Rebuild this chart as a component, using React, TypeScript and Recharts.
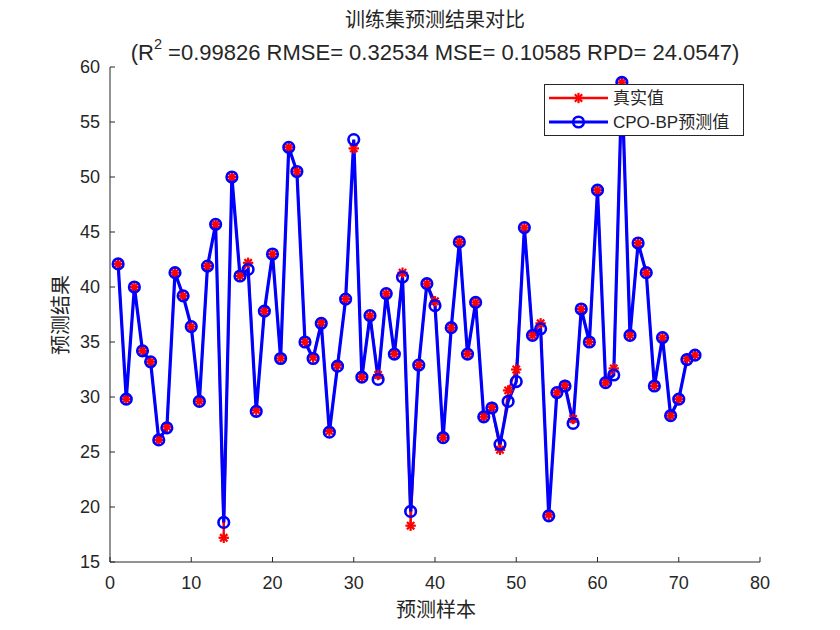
import React from 'react';
import { LineChart, Line, XAxis, YAxis } from 'recharts';

const sampleIndex = [
  1, 2, 3, 4, 5, 6, 7, 8, 9, 10, 11, 12, 13, 14, 15, 16, 17, 18, 19, 20, 21, 22, 23, 24,
  25, 26, 27, 28, 29, 30, 31, 32, 33, 34, 35, 36, 37, 38, 39, 40, 41, 42, 43, 44, 45, 46, 47, 48,
  49, 50, 51, 52, 53, 54, 55, 56, 57, 58, 59, 60, 61, 62, 63, 64, 65, 66, 67, 68, 69, 70, 71, 72,
];

const actualValues = [
  42.1, 29.8, 40.0, 34.2, 33.2, 26.1, 27.3, 41.3, 39.2, 36.4, 29.6, 41.9, 45.7, 17.2, 50.0, 41.0, 42.2, 28.8, 37.8, 43.0, 33.5, 52.7, 50.5, 35.0,
  33.6, 36.8, 26.9, 32.9, 38.9, 52.6, 31.8, 37.4, 32.0, 39.4, 33.9, 41.3, 18.3, 32.9, 40.3, 38.7, 26.3, 36.3, 44.1, 33.9, 38.6, 28.2, 29.1, 25.2,
  30.6, 32.5, 45.4, 35.6, 36.7, 19.3, 30.4, 31.1, 28.0, 38.0, 35.0, 48.8, 31.3, 32.6, 58.6, 35.6, 44.0, 41.3, 31.0, 35.4, 28.3, 29.8, 33.5, 33.8,
];

const predictedValues = [
  42.1, 29.8, 40.0, 34.2, 33.2, 26.1, 27.2, 41.3, 39.2, 36.4, 29.6, 41.9, 45.7, 18.6, 50.0, 41.0, 41.6, 28.7, 37.8, 43.0, 33.5, 52.7, 50.5, 35.0,
  33.5, 36.7, 26.8, 32.8, 38.9, 53.4, 31.8, 37.4, 31.6, 39.4, 33.9, 40.9, 19.6, 32.9, 40.3, 38.3, 26.3, 36.3, 44.1, 33.9, 38.6, 28.2, 29.0, 25.7,
  29.6, 31.4, 45.4, 35.6, 36.2, 19.2, 30.4, 31.0, 27.6, 38.0, 35.0, 48.8, 31.3, 32.0, 58.6, 35.6, 44.0, 41.3, 31.0, 35.4, 28.3, 29.8, 33.4, 33.8,
];

const xTicks = [0, 10, 20, 30, 40, 50, 60, 70, 80];
const yTicks = [15, 20, 25, 30, 35, 40, 45, 50, 55, 60];

const titleLine1 = '训练集预测结果对比';
const metricR2 = '0.99826';
const metricRMSE = '0.32534';
const metricMSE = '0.10585';
const metricRPD = '24.0547';
const legendActual = '真实值';
const legendPredicted = 'CPO-BP预测值';
const xAxisLabel = '预测样本';
const yAxisLabel = '预测结果';

const chartData = sampleIndex.map((idx, i) => ({
  idx,
  actual: actualValues[i],
  predicted: predictedValues[i],
}));

const FONT = '"Liberation Sans", Arial, "Noto Sans CJK SC", sans-serif';
const TEXT_COLOR = '#262626';

const StarDot = (props: any) => {
  const { cx, cy } = props;
  if (cx == null || cy == null) return null;
  const r = 5.2;
  const d = r * 0.7071;
  return (
    <g stroke="#FF0000" strokeWidth={2.2}>
      <line x1={cx - r} y1={cy} x2={cx + r} y2={cy} />
      <line x1={cx} y1={cy - r} x2={cx} y2={cy + r} />
      <line x1={cx - d} y1={cy - d} x2={cx + d} y2={cy + d} />
      <line x1={cx - d} y1={cy + d} x2={cx + d} y2={cy - d} />
    </g>
  );
};

const CircleDot = (props: any) => {
  const { cx, cy } = props;
  if (cx == null || cy == null) return null;
  return <circle cx={cx} cy={cy} r={5.3} fill="none" stroke="#0000FF" strokeWidth={2.6} />;
};

const tickStyle = { fontSize: 18, fill: TEXT_COLOR, fontFamily: FONT };

export default function App() {
  return (
    <div style={{ position: 'absolute', left: 0, top: 0, width: 840, height: 630, background: '#ffffff' }}>
      <LineChart
        width={840}
        height={630}
        data={chartData}
        margin={{ top: 67, right: 80, left: 0, bottom: 0 }}
      >
        <XAxis
          xAxisId="bottom"
          dataKey="idx"
          type="number"
          domain={[0, 80]}
          ticks={xTicks}
          interval={0}
          height={68}
          tickSize={-5}
          tickMargin={19}
          tick={tickStyle}
          stroke={TEXT_COLOR}
          axisLine={{ stroke: TEXT_COLOR, strokeWidth: 1 }}
          tickLine={{ stroke: TEXT_COLOR }}
          allowDataOverflow
        />
        <XAxis
          xAxisId="top"
          orientation="top"
          dataKey="idx"
          type="number"
          domain={[0, 80]}
          ticks={xTicks}
          interval={0}
          height={0}
          tickSize={-5}
          tick={false}
          axisLine={{ stroke: TEXT_COLOR, strokeWidth: 1 }}
          tickLine={{ stroke: TEXT_COLOR }}
          allowDataOverflow
        />
        <YAxis
          yAxisId="left"
          type="number"
          domain={[15, 60]}
          ticks={yTicks}
          interval={0}
          width={110}
          tickSize={-5}
          tickMargin={15}
          tick={tickStyle}
          axisLine={{ stroke: TEXT_COLOR, strokeWidth: 1 }}
          tickLine={{ stroke: TEXT_COLOR }}
          allowDataOverflow
        />
        <YAxis
          yAxisId="right"
          orientation="right"
          type="number"
          domain={[15, 60]}
          ticks={yTicks}
          interval={0}
          width={0}
          tickSize={-5}
          tick={false}
          axisLine={{ stroke: TEXT_COLOR, strokeWidth: 1 }}
          tickLine={{ stroke: TEXT_COLOR }}
          allowDataOverflow
        />
        <Line
          xAxisId="bottom"
          yAxisId="left"
          type="linear"
          dataKey="actual"
          stroke="#FF0000"
          strokeWidth={2}
          dot={<StarDot />}
          activeDot={false}
          isAnimationActive={false}
        />
        <Line
          xAxisId="bottom"
          yAxisId="left"
          type="linear"
          dataKey="predicted"
          stroke="#0000FF"
          strokeWidth={3.2}
          dot={<CircleDot />}
          activeDot={false}
          isAnimationActive={false}
        />
      </LineChart>

      <svg
        width={840}
        height={630}
        style={{ position: 'absolute', left: 0, top: 0, pointerEvents: 'none' }}
      >
        <text x={435} y={27} textAnchor="middle" fontSize={20} fill={TEXT_COLOR} fontFamily={FONT}>
          {titleLine1}
        </text>
        <text x={435} y={60} textAnchor="middle" fontSize={22} fill={TEXT_COLOR} fontFamily={FONT}>
          <tspan>(R</tspan>
          <tspan fontSize={14.5} dy={-11}>2</tspan>
          <tspan dy={11}>{` =${metricR2} RMSE= ${metricRMSE} MSE= ${metricMSE} RPD= ${metricRPD})`}</tspan>
        </text>
        <text x={436} y={610} textAnchor="middle" dominantBaseline="central" fontSize={20} fill={TEXT_COLOR} fontFamily={FONT}>
          {xAxisLabel}
        </text>
        <text
          x={61}
          y={315}
          textAnchor="middle"
          dominantBaseline="central"
          fontSize={20}
          fill={TEXT_COLOR}
          fontFamily={FONT}
          transform="rotate(-90, 61, 315)"
        >
          {yAxisLabel}
        </text>

        <g>
          <rect x={544.5} y={84.5} width={199} height={51} fill="#ffffff" stroke={TEXT_COLOR} strokeWidth={1} />
          <line x1={549} y1={98} x2={608} y2={98} stroke="#FF0000" strokeWidth={2.5} />
          <StarDot cx={578.5} cy={98} />
          <text x={613} y={98} dominantBaseline="central" fontSize={17} fill={TEXT_COLOR} fontFamily={FONT}>
            {legendActual}
          </text>
          <line x1={549} y1={122} x2={608} y2={122} stroke="#0000FF" strokeWidth={3} />
          <CircleDot cx={578.5} cy={122} />
          <text x={613} y={122} dominantBaseline="central" fontSize={17} fill={TEXT_COLOR} fontFamily={FONT}>
            {legendPredicted}
          </text>
        </g>
      </svg>
    </div>
  );
}
